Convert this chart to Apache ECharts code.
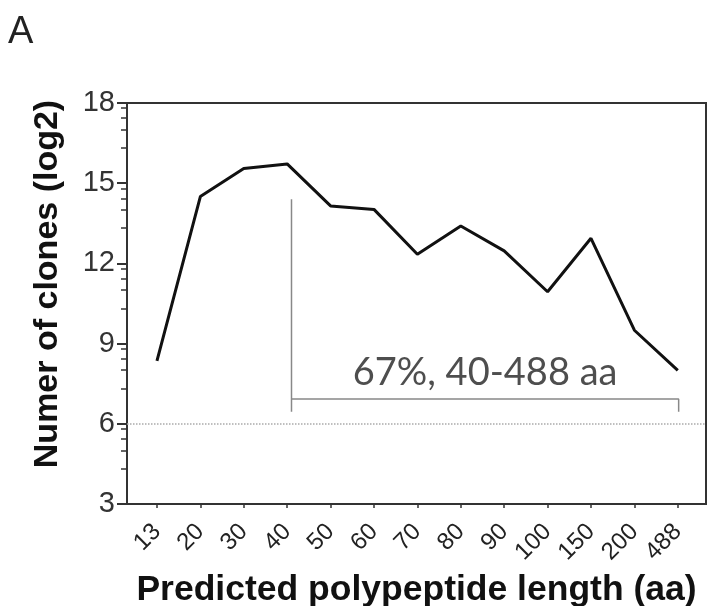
<!DOCTYPE html>
<html>
<head>
<meta charset="utf-8">
<script src="https://cdn.jsdelivr.net/npm/echarts@6/dist/echarts.min.js"></script>
<style>
  html, body { margin: 0; padding: 0; background: #fff; }
  #main { width: 710px; height: 606px; }
</style>
</head>
<body>
<div id="main"></div>
<script>
// polypeptide length categories and log2 clone counts
const lengths = ['13', '20', '30', '40', '50', '60', '70', '80', '90', '100', '150', '200', '488'];
const clones = [8.35, 14.5, 15.55, 15.72, 14.15, 14.02, 12.34, 13.4, 12.47, 10.94, 12.94, 9.5, 8.0];

// y axis ticks
const yMajor = [3, 6, 9, 12, 15, 18];
const yMinorFrac = [0.44, 0.67, 0.81, 0.935];

// bracket annotation (category index, value)
const bracketStem = [[3.1, 14.4], [3.1, 6.45]];
const bracketArm = [[3.1, 6.93], [12.02, 6.93], [12.02, 6.45]];
const bracketText = '67%, 40-488 aa';
const cutoff = 6;

const catIdx = lengths.map((_, i) => i);
const yMinor = [];
yMajor.slice(0, -1).forEach(v => {
    yMinorFrac.forEach(f => yMinor.push(+(v + 3 * f).toFixed(3)));
});

const chart = echarts.init(document.getElementById('main'));

chart.setOption({
    animation: false,
    grid: {
        left: 127, top: 103, right: 4, bottom: 102,
        outerBoundsMode: 'none',
        containLabel: false,
        show: true, borderColor: '#333', borderWidth: 2
    },
    xAxis: {
        type: 'value',
        min: -0.69, max: 12.65,
        splitLine: { show: false },
        axisLine: { onZero: false, lineStyle: { color: '#333', width: 2 } },
        axisTick: { customValues: catIdx, length: 4, lineStyle: { color: '#333', width: 1.5 } },
        axisLabel: {
            customValues: catIdx,
            formatter: v => lengths[Math.round(v)],
            rotate: 45,
            fontFamily: 'Liberation Sans, Arial',
            fontSize: 24,
            color: '#222',
            margin: 24
        },
        name: 'Predicted polypeptide length (aa)',
        nameLocation: 'middle',
        nameGap: 66,
        nameTextStyle: {
            fontFamily: 'Liberation Sans, Arial',
            fontWeight: 'bold',
            fontSize: 35.5,
            color: '#111'
        }
    },
    yAxis: [{
        type: 'value',
        min: 3, max: 18, interval: 3,
        splitLine: { show: false },
        axisLine: { show: true, onZero: false, lineStyle: { color: '#333', width: 2 } },
        axisTick: { show: true, length: 10, lineStyle: { color: '#333', width: 2 } },
        axisLabel: {
            fontFamily: 'Liberation Sans, Arial',
            fontSize: 29,
            color: '#333',
            margin: 12
        }
    }, {
        type: 'value',
        min: 3, max: 18,
        position: 'left',
        splitLine: { show: false },
        axisLine: { show: false, onZero: false },
        axisTick: { show: true, customValues: yMinor, length: 6, lineStyle: { color: '#333', width: 1.5 } },
        axisLabel: { show: false }
    }],
    graphic: [{
        type: 'text',
        left: 8, top: 14,
        style: { text: 'A', font: '38px "Liberation Sans", Arial', fill: '#222' }
    }, {
        type: 'text',
        x: 48, y: 284,
        rotation: Math.PI / 2,
        style: {
            text: 'Numer of clones (log2)',
            font: 'bold 34px "Liberation Sans", Arial',
            fill: '#111',
            textAlign: 'center',
            textVerticalAlign: 'middle'
        }
    }],
    series: [{
        type: 'line',
        data: clones.map((v, i) => [i, v]),
        showSymbol: false,
        lineStyle: { color: '#111', width: 3 },
        z: 5,
        markLine: {
            silent: true,
            symbol: 'none',
            label: { show: false },
            lineStyle: { color: '#aaa', type: 'dotted', width: 1.5 },
            data: [{ yAxis: cutoff }]
        }
    }, {
        type: 'line',
        data: bracketStem,
        showSymbol: false,
        lineStyle: { color: '#888', width: 1.5 }
    }, {
        type: 'line',
        data: bracketArm,
        showSymbol: false,
        lineStyle: { color: '#888', width: 1.5 }
    }, {
        type: 'scatter',
        data: [[7.56, 7.9]],
        symbolSize: 0,
        label: {
            show: true,
            formatter: bracketText,
            fontFamily: 'Lato, Open Sans',
            fontSize: 38,
            color: '#222'
        }
    }]
});
</script>
</body>
</html>
